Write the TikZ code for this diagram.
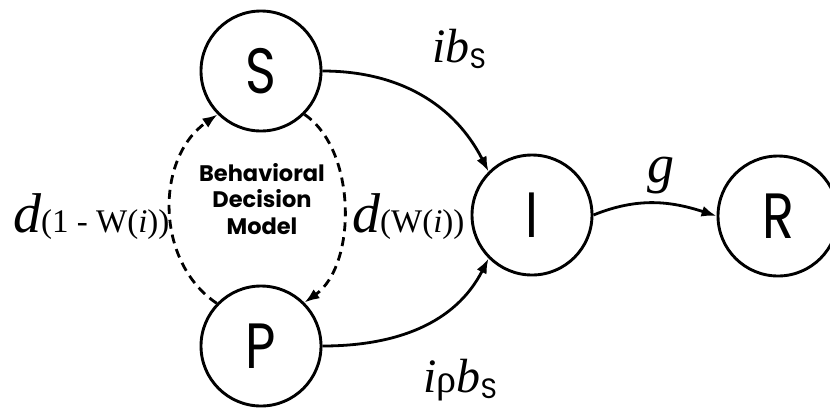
\documentclass[tikz,border=0pt]{standalone}
\usepackage{fontspec}
\setmainfont{Liberation Serif}
\newfontfamily\geo[FakeStretch=0.82]{Poppins}
\newfontfamily\geob{Poppins}
\usetikzlibrary{arrows.meta}
\begin{document}
\begin{tikzpicture}[x=1pt,y=-1pt,
  state/.style={circle,draw,line width=2.9pt,fill=white,minimum size=120pt,inner sep=0pt,font=\geo\fontsize{64}{64}\selectfont},
  arr/.style={line width=2.8pt,-{Latex[length=15pt,width=11pt]}},
  darr/.style={arr,dash pattern=on 9pt off 6pt},
  lbl/.style={inner sep=0pt,anchor=base west}]
\useasboundingbox (0,0) rectangle (830,408);
\node[state] (S) at (261,71) {S};
\node[state] (P) at (261,346) {P};
\node[state] (I) at (532,215) {I};
\node[state] (R) at (778,216) {R};
\node[align=center,inner sep=0pt,font=\geob\bfseries\fontsize{22.5}{26.5}\selectfont] (B) at (262,199) {Behavioral\\Decision\\Model};
\draw[arr] (S.east) to[out=0,in=117] (I.135);
\draw[arr] (P.east) to[out=0,in=-117] (I.225);
\draw[arr] (I.east) to[out=22,in=162] (R.west);
\draw[darr] (P.136) .. controls (155,262) and (155,158) .. (S.225);
\draw[darr] (S.315) .. controls (357,150) and (357,265) .. (P.45);
\node[lbl] (L1) at (13,232) {{\fontsize{56}{56}\selectfont\itshape d}{\fontsize{33}{33}\selectfont(1 - W(\textit{i}))}};
\node[lbl] (L2) at (352,232) {{\fontsize{56}{56}\selectfont\itshape d}{\fontsize{33}{33}\selectfont(W(\textit{i}))}};
\node[lbl] (L3) at (432,62) {{\fontsize{48}{48}\selectfont\itshape ib}\raisebox{-6pt}{\geob\fontsize{28}{28}\selectfont S}};
\node[lbl] (L4) at (423,392) {{\fontsize{48}{48}\selectfont\itshape i}{\fontsize{40}{40}\selectfont ρ}{\fontsize{48}{48}\selectfont\itshape b}\raisebox{-6pt}{\geob\fontsize{28}{28}\selectfont S}};
\node[lbl] (L5) at (647,182) {\fontsize{54}{54}\selectfont\itshape g};
\end{tikzpicture}
\end{document}
